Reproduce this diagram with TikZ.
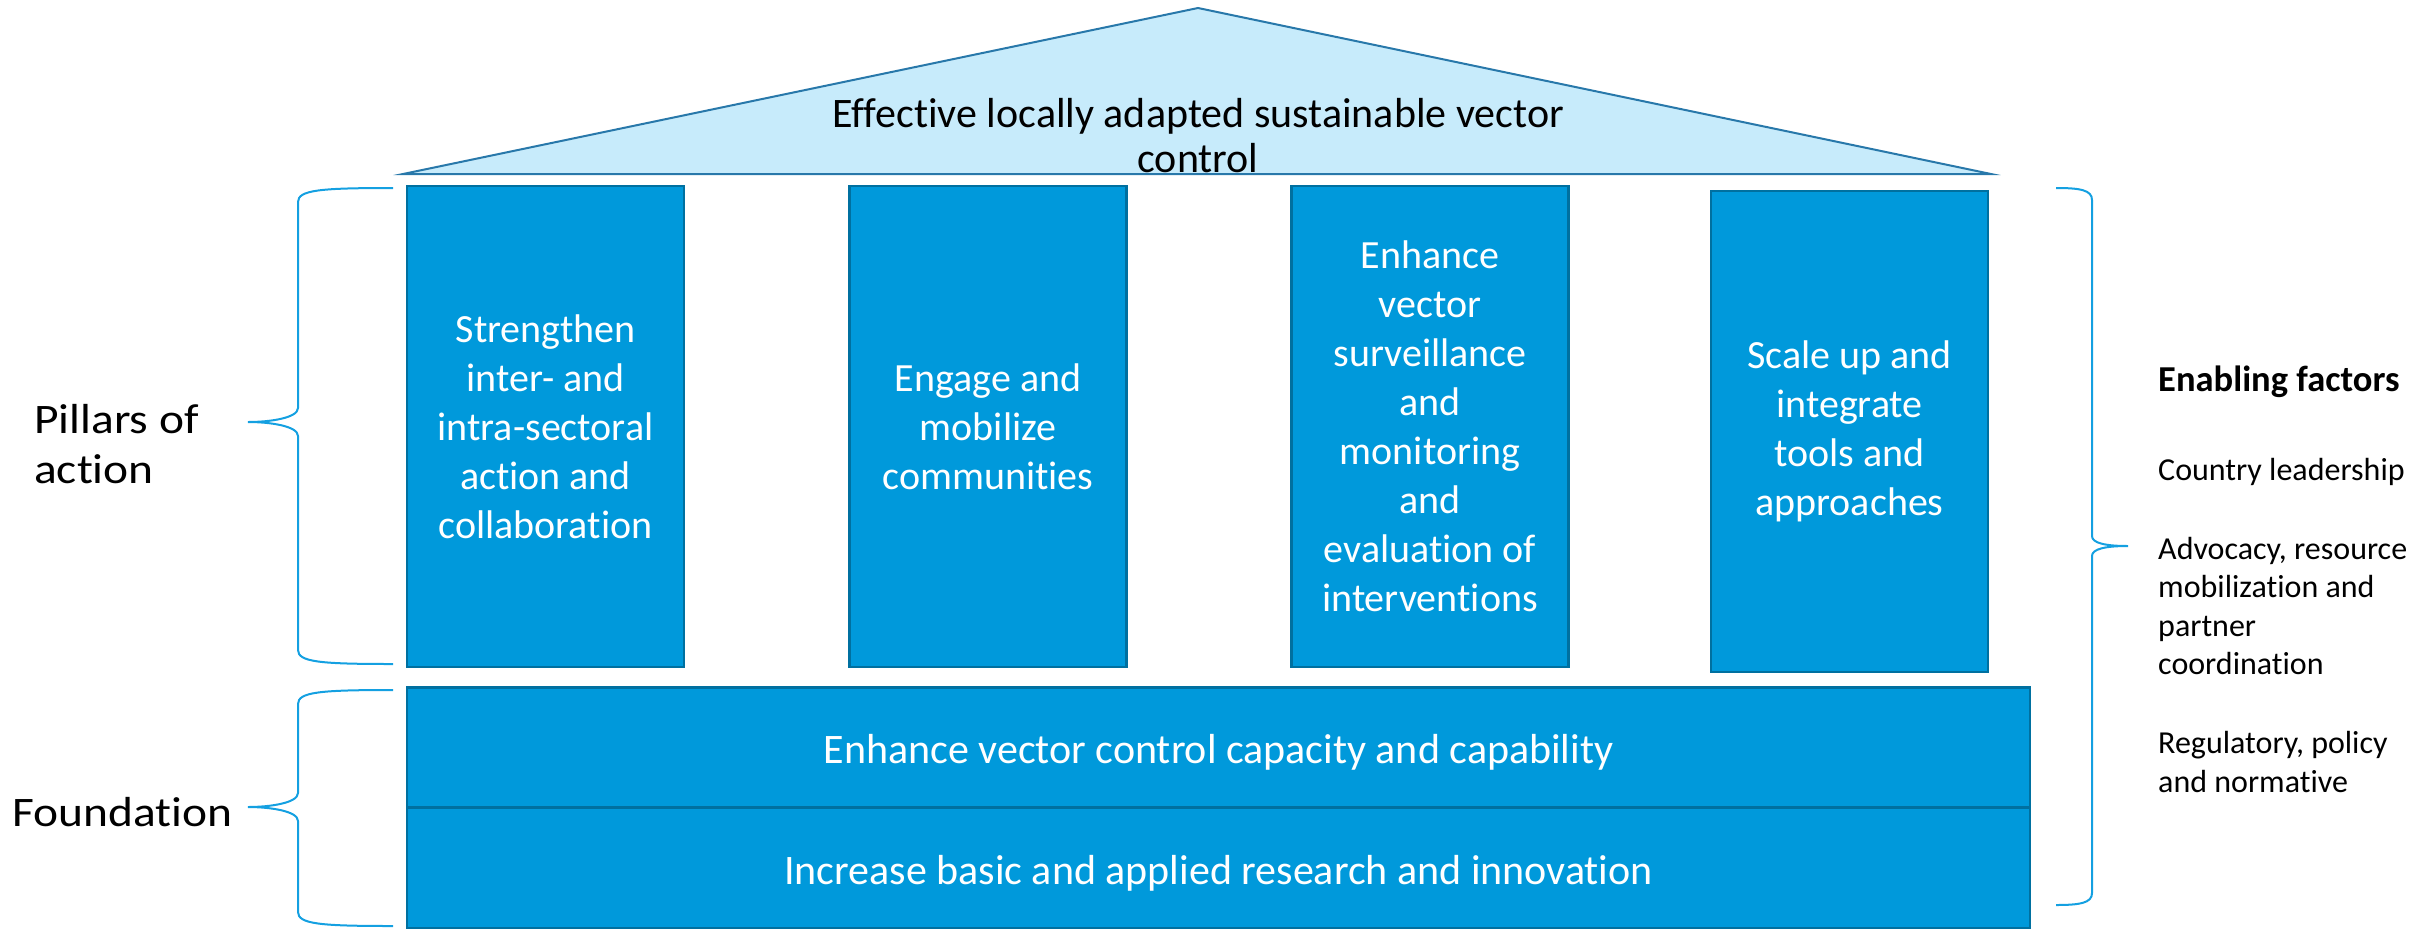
\documentclass[tikz,border=0pt]{standalone}
\usepackage{fontspec}
\setmainfont{Carlito}[Ligatures={NoCommon}]
\newfontfamily\widef[FakeStretch=1.13,Ligatures={NoCommon}]{Carlito}
\definecolor{pillarblue}{RGB}{0,153,219}
\definecolor{pillaredge}{RGB}{0,112,160}
\definecolor{roof}{RGB}{199,235,251}
\definecolor{roofedge}{RGB}{40,120,170}
\definecolor{bracec}{RGB}{20,160,225}
\tikzset{
  pillar/.style={draw=pillaredge, line width=2.5pt, fill=pillarblue, text=white,
    inner sep=0pt, minimum width=277pt, minimum height=481pt, align=center,
    font=\fontsize{40}{49}\selectfont},
  base/.style={draw=pillaredge, line width=2.5pt, fill=pillarblue, text=white,
    inner sep=0pt, minimum width=1623pt, minimum height=120pt, align=center,
    text height=32pt, text depth=0pt,
    font=\fontsize{42}{49}\selectfont},
  roofstyle/.style={draw=roofedge, line width=2pt, fill=roof},
  bracestyle/.style={draw=bracec, line width=2pt},
  leftlab/.style={anchor=west, align=left, inner sep=0pt, font=\widef\fontsize{42}{50}\selectfont},
  rightlab/.style={anchor=west, align=left, inner sep=0pt, font=\fontsize{32}{38.5}\selectfont},
}
\begin{document}
\begin{tikzpicture}[x=1pt,y=-1pt]
\useasboundingbox (0,0) rectangle (2433,930);
% roof
\coordinate (rl) at (403,174);
\coordinate (ra) at (1198,8);
\coordinate (rr) at (1991,174);
\draw[roofstyle] (rl) -- (ra) -- (rr) -- cycle;
\node[align=center, inner sep=0pt, font=\fontsize{42}{45}\selectfont] (rooftext) at (1198,136)
  {Effective locally adapted sustainable vector\\control};
% pillars
\node[pillar] (p1) at (545.5,426.5) {Strengthen\\inter- and\\intra-sectoral\\action and\\collaboration};
\node[pillar] (p2) at (988,426.5) {Engage and\\mobilize\\communities};
\node[pillar] (p3) at (1430,426.5) {Enhance\\vector\\surveillance\\and\\monitoring\\and\\evaluation of\\interventions};
\node[pillar] (p4) at (1849.5,431.5) {Scale up and\\integrate\\tools and\\approaches};
% foundation
\node[base] (f1) at (1218.5,747.5) {Enhance vector control capacity and capability};
\node[base] (f2) at (1218.5,868) {Increase basic and applied research and innovation};
% left braces
\coordinate (b1t) at (393,188);
\coordinate (b1tip) at (248,422);
\coordinate (b1b) at (393,664);
\draw[bracestyle] (b1t) .. controls (320,188) and (298,190) .. (298,202)
  -- (298,408) .. controls (298,418) and (270,422) .. (b1tip)
  .. controls (270,422) and (298,426) .. (298,436)
  -- (298,650) .. controls (298,662) and (320,664) .. (b1b);
\coordinate (b2t) at (393,690);
\coordinate (b2tip) at (248,807);
\coordinate (b2b) at (393,926);
\draw[bracestyle] (b2t) .. controls (320,690) and (298,692) .. (298,704)
  -- (298,793) .. controls (298,803) and (270,807) .. (b2tip)
  .. controls (270,807) and (298,811) .. (298,821)
  -- (298,912) .. controls (298,924) and (320,926) .. (b2b);
% right brace
\coordinate (rbt) at (2056,188);
\coordinate (rbtip) at (2128,546);
\coordinate (rbb) at (2056,905);
\draw[bracestyle] (rbt) .. controls (2080,188) and (2092,190) .. (2092,200)
  -- (2092,536) .. controls (2092,543) and (2105,546) .. (rbtip)
  .. controls (2105,546) and (2092,549) .. (2092,556)
  -- (2092,893) .. controls (2092,903) and (2080,905) .. (rbb);
% left labels
\node[leftlab] (lpil) at (34,444) {Pillars of\\action};
\node[leftlab] (lfound) at (12,812) {Foundation};
% right labels
\node[rightlab, font=\bfseries\fontsize{36.5}{38.5}\selectfont] (ef) at (2158,382) {Enabling factors};
\node[rightlab] (cl) at (2158,472) {Country leadership};
\node[rightlab] (adv) at (2158,606) {Advocacy, resource\\mobilization and\\partner\\coordination};
\node[rightlab] (reg) at (2158,762) {Regulatory, policy\\and normative};
\end{tikzpicture}
\end{document}
